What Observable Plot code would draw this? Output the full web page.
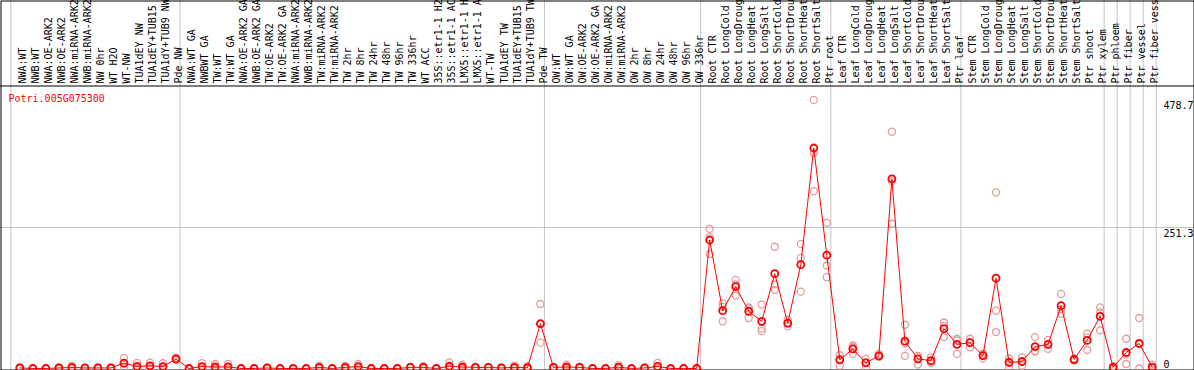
<!DOCTYPE html>
<html><head><meta charset="utf-8">
<script src="https://cdn.jsdelivr.net/npm/d3@7"></script>
<script src="https://cdn.jsdelivr.net/npm/@observablehq/plot@0.6"></script>
<style>html,body{margin:0;padding:0;background:#fff}#chart svg{display:block;overflow:hidden}</style>
</head><body><div id="chart"></div>
<script>
const categories = [
"NWA:WT","NWB:WT","NWA:OE-ARK2","NWB:OE-ARK2","NWA:miRNA-ARK2","NWB:miRNA-ARK2","NW 0hr","WT H2O","WT-NW","TUA1dEY NW","TUA1dEY+TUB15 NW","TUA1dY+TUB9 NW","Pde NW",
"NWA:WT GA","NWBWT GA","TW:WT","TW:WT GA","NWA:OE-ARK2 GA","NWB:OE-ARK2 GA","TW:OE-ARK2","TW:OE-ARK2 GA","NWA:miRNA-ARK2","NWB:miRNA-ARK2","TW:miRNA-ARK2","TW:miRNA-ARK2","TW 2hr","TW 8hr","TW 24hr","TW 48hr","TW 96hr","TW 336hr","WT ACC","35S::etr1-1 H2O","35S::etr1-1 ACC","LMX5::etr1-1 H2O","LMX5::etr1-1 ACC","WT-TW","TUA1dEY TW","TUA1dEY+TUB15 TW","TUA1dY+TUB9 TW","Pde TW",
"OW:WT","OW:WT GA","OW:OE-ARK2","OW:OE-ARK2 GA","OW:miRNA-ARK2","OW:miRNA-ARK2","OW 2hr","OW 8hr","OW 24hr","OW 48hr","OW 96hr","OW 336hr",
"Root CTR","Root LongCold","Root LongDrought","Root LongHeat","Root LongSalt","Root ShortCold","Root ShortDrought","Root ShortHeat","Root ShortSalt","Ptr root",
"Leaf CTR","Leaf LongCold","Leaf LongDrought","Leaf LongHeat","Leaf LongSalt","Leaf ShortCold","Leaf ShortDrought","Leaf ShortHeat","Leaf ShortSalt","Ptr leaf",
"Stem CTR","Stem LongCold","Stem LongDrought","Stem LongHeat","Stem LongSalt","Stem ShortCold","Stem ShortDrought","Stem ShortHeat","Stem ShortSalt","Ptr shoot","Ptr xylem",
"Ptr phloem","Ptr fiber","Ptr vessel","Ptr fiber vessel"
];
const means = [
1,0,0,1,2,1,1,1,9.5,3.7,4.7,3.5,17,
0,3.5,2.7,3,0,0,1,0,0,0,2,0,2,3.5,0,0,0,2,2,0,4,2.7,2,2,1,2,1.3,80,
2,2.7,2,0,0,2.3,0,1,3.7,0,0,0,
229,103,146,102,84,169,81,185,393,202,
15.5,35,10,22.6,338,48.7,17,14,71,43,
46,23,161,10.7,12.5,39,43,112,16,50,93,
2,28.5,44.6,2.3
];
const rep1 = [
2,0,0,2,5,1,2,2,19,10,10.5,9.5,19,
0,9.5,8,8,0,0,2,0,0,0,5,0,5,8,0,0,0,3,4,0,11,7,3,3,2,5,4,115,
3,7,3,0,0,6,0,2,10,0,0,0,
249,116,158,109,114,217,87,222,478.7,259.6,
24,41,17,26,422,78,22.6,20,82,53,
53,27,314,18,20,56,51,133,18,62,109,
4,53,90,7
];
const rep2 = [
1,0,0,1,1,1,1,1,9,1,3,1,17,
0,1,0,1,0,0,1,0,0,0,1,0,1,2,0,0,0,2,1.5,0,1,1,2,2,1,1,0,79,
2,1,2,0,0,1,0,1,1,0,0,0,
234,110,150,107,71,150,80,197,384,183.6,
17,38,11,21,334,45,21,12,76,50,
47,24,103,12,12,31,43,106,16,55,100,
2,25,44,0
];
const rep3 = [
0,0,0,0,0,1,0,0,1,0,0.5,0,15,
0,0,0,0,0,0,0,0,0,0,0,0,0,0.5,0,0,0,1,0.5,0,0,0,1,1,0,0,0,46,
1,0,1,0,0,0,0,0,0,0,0,0,
204,84,130,90,66.5,140,75,137,316,162.7,
5,26,2,21,258,22.6,7,10,56,26,
38,18,65,2,5,30,35,97.5,14,33,68,
0,8,0,0
];
const groupStarts = [0,13,41,53,63,73,84,85,86,87];
const geneName = "Potri.005G075300";
const yTickLabels = [478.7, 251.3];
const yZeroLabel = [0];
const yMax = 502.6;

const meanRows = categories.map((c, i) => ({i, c, v: means[i]}));
const repRows = [];
for (const reps of [rep1, rep2, rep3]) categories.forEach((c, i) => repRows.push({i, c, v: reps[i]}));

const W = 1194, H = 370;
const x0 = 10.3, x1 = 1155.7;
const bw = (x1 - x0) / categories.length;
const font = '"DejaVu Sans Mono", monospace';
const grid = "#c4c4c4";

const chart = Plot.plot({
  width: W, height: H,
  marginTop: 0, marginBottom: 0, marginLeft: 0, marginRight: 0,
  style: {fontFamily: font, fontSize: "10px", background: "#fff"},
  x: {type: "band", domain: d3.range(categories.length), range: [x0, x1], padding: 0, round: false, axis: null},
  y: {domain: [0, yMax], range: [368, 86], axis: null},
  marks: [
    Plot.ruleY([yTickLabels[1]], {stroke: grid}),
    Plot.ruleX(groupStarts, {x: d => d, dx: -bw / 2, stroke: grid}),
    Plot.ruleX([categories.length - 1], {x: d => d, dx: bw / 2, stroke: grid}),
    Plot.ruleY([yMax], {stroke: "#000", dy: -0.5}),
    Plot.frame({stroke: "#000", inset: 0.5}),
    Plot.text(categories, {x: (d, i) => i, text: d => d, rotate: -90, textAnchor: "start", frameAnchor: "top", dy: 83, dx: 1.5, fill: "#000", fontSize: 10}),
    Plot.dot(repRows, {x: "i", y: "v", r: 3.5, stroke: "#e89a9a", strokeWidth: 1.3, dx: 2.5}),
    Plot.line(meanRows, {x: "i", y: "v", stroke: "#ff0000", strokeWidth: 1, dx: 2.5}),
    Plot.dot(meanRows, {x: "i", y: "v", r: 3.5, stroke: "#ff0000", strokeWidth: 1.8, dx: 2.5}),
    Plot.text([geneName], {frameAnchor: "top-left", text: d => d, dx: 8, dy: 94, textAnchor: "start", fill: "#ff0000", fontSize: 10}),
    Plot.text(yTickLabels, {y: d => d, text: d => String(d), frameAnchor: "right", textAnchor: "start", dx: -31, lineAnchor: "top", dy: 2, fill: "#000", fontSize: 10}),
    Plot.text(yZeroLabel, {y: d => d, text: d => String(d), frameAnchor: "right", textAnchor: "start", dx: -31, lineAnchor: "bottom", dy: -1, fill: "#000", fontSize: 10})
  ]
});
document.getElementById("chart").append(chart);
</script>
</body></html>
